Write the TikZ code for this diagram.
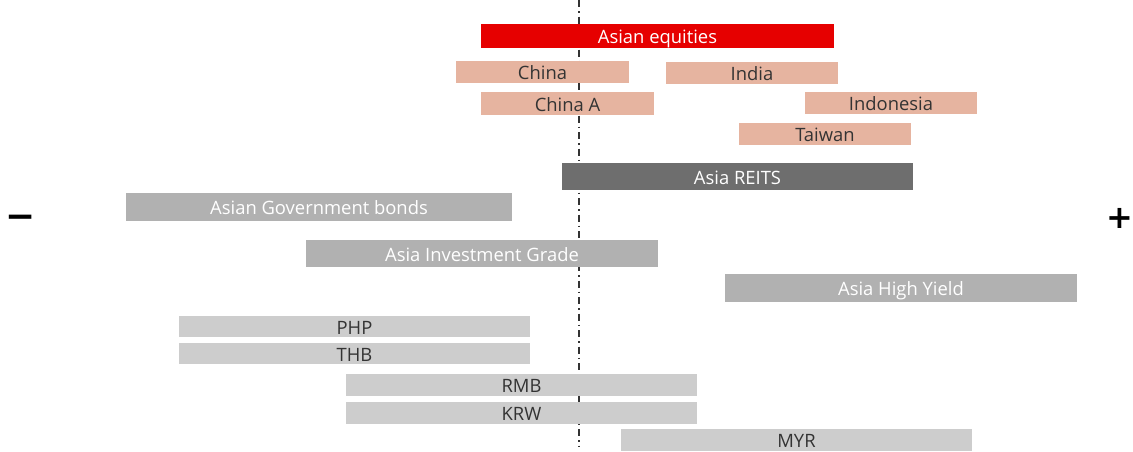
\documentclass[tikz,border=0pt]{standalone}
\usepackage{fontspec}
\setmainfont{Open Sans}
\newfontfamily\symfont{DejaVu Sans}
\definecolor{eqred}{HTML}{E60000}
\definecolor{salmon}{HTML}{E6B4A0}
\definecolor{darkbar}{HTML}{6E6E6E}
\definecolor{midbar}{HTML}{B1B1B1}
\definecolor{lightbar}{HTML}{CDCDCD}
\definecolor{txtdark}{HTML}{333333}
\tikzset{
  bar/.style={rectangle, inner sep=0pt, outer sep=0pt, font=\fontsize{18.4}{18.4}\selectfont, text height=15pt, text depth=0pt},
  redbar/.style={bar, fill=eqred, text=white},
  pinkbar/.style={bar, fill=salmon, text=txtdark},
  darkgray/.style={bar, fill=darkbar, text=white},
  midgray/.style={bar, fill=midbar, text=white},
  lightgray/.style={bar, fill=lightbar, text=txtdark},
  axisline/.style={line width=2pt, black!80, dash pattern=on 7pt off 4pt on 1.5pt off 4pt},
  sign/.style={inner sep=0pt, font=\symfont\bfseries\fontsize{36}{36}\selectfont}
}
\begin{document}
\begin{tikzpicture}[x=1pt, y=-1pt]
\useasboundingbox (0,0) rectangle (1133,451);
\coordinate (top) at (579,0);
\coordinate (bot) at (579,447);
\draw[axisline] (top) -- (bot);
\node[redbar, minimum width=353pt, minimum height=24pt] (eq) at (657.5,36) {Asian equities};
\node[pinkbar, minimum width=173pt, minimum height=22pt] (china) at (542.5,72) {China};
\node[pinkbar, minimum width=172pt, minimum height=22pt] (india) at (752,73) {India};
\node[pinkbar, minimum width=173pt, minimum height=23pt] (chinaA) at (567.5,103.5) {China A};
\node[pinkbar, minimum width=172pt, minimum height=22pt] (indo) at (891,103) {Indonesia};
\node[pinkbar, minimum width=172pt, minimum height=22pt] (taiwan) at (825,134) {Taiwan};
\node[darkgray, minimum width=351pt, minimum height=27pt] (reits) at (737.5,176.5) {Asia REITS};
\node[midgray, minimum width=386pt, minimum height=28pt] (govt) at (319,207) {Asian Government bonds};
\node[midgray, minimum width=352pt, minimum height=27pt] (ig) at (482,253.5) {Asia Investment Grade};
\node[midgray, minimum width=352pt, minimum height=28pt] (hy) at (901,288) {Asia High Yield};
\node[lightgray, minimum width=351pt, minimum height=21pt] (php) at (354.5,326.5) {PHP};
\node[lightgray, minimum width=351pt, minimum height=21pt] (thb) at (354.5,353.5) {THB};
\node[lightgray, minimum width=351pt, minimum height=22pt] (rmb) at (521.5,385) {RMB};
\node[lightgray, minimum width=351pt, minimum height=22pt] (krw) at (521.5,413) {KRW};
\node[lightgray, minimum width=351pt, minimum height=22pt] (myr) at (796.5,440) {MYR};
\node[sign] (minus) at (20.5,221.5) {−};
\node[sign, font=\symfont\bfseries\fontsize{32}{32}\selectfont] (plus) at (1119.5,218) {+};
\end{tikzpicture}
\end{document}
